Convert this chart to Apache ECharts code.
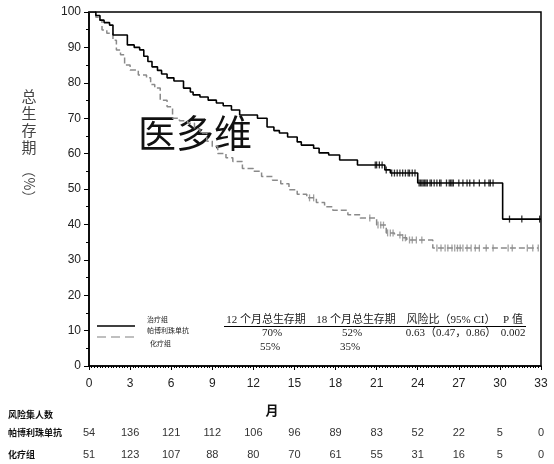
<!DOCTYPE html>
<html>
<head>
<meta charset="utf-8">
<script src="https://cdn.jsdelivr.net/npm/echarts@6/dist/echarts.min.js"></script>
<style>
html, body { margin: 0; padding: 0; background: #fff; }
#main { width: 554px; height: 464px; }
</style>
</head>
<body>
<div id="main"></div>
<script>
// 帕博利珠单抗组 KM 曲线（月, 生存率%）
var pembroTime = [0, 0.5, 0.8, 1.1, 1.5, 1.75, 2.8, 3.3, 3.7, 4.0, 4.3, 4.6, 5.0, 5.3, 5.7, 6.2, 6.9, 7.4, 7.6, 8.1, 8.7, 9.3, 9.8, 10.4, 11.0, 12.3, 13.0, 13.5, 13.9, 14.5, 15.2, 15.5, 16.4, 16.8, 17.5, 18.3, 19.6, 21.6, 22.0, 24.0, 30.2, 33.0];
var pembroSurv = [100, 99, 97.7, 97, 96.3, 93.5, 90.7, 90, 89.3, 87.5, 86, 84.5, 83.5, 82.5, 81.4, 80.5, 78.5, 77.4, 76.6, 76, 75.1, 74.3, 73.5, 72.3, 70.9, 70, 67.5, 66.5, 65.8, 64.7, 63.3, 62.4, 61.5, 60.2, 59.6, 58.2, 56.8, 55.4, 54.5, 51.7, 41.5, 41.5];
// 化疗组
var chemoTime = [0, 0.5, 0.8, 0.95, 1.3, 1.75, 2.0, 2.3, 2.6, 3.0, 3.6, 4.2, 4.5, 4.8, 5.2, 5.7, 6.1, 6.6, 7.2, 7.7, 8.1, 8.6, 9.0, 9.4, 10.0, 10.5, 11.2, 12.0, 12.6, 13.4, 14.0, 14.6, 15.2, 15.9, 16.6, 17.2, 17.8, 18.9, 19.8, 21.0, 21.7, 22.3, 22.9, 23.2, 25.1, 32.8];
var chemoSurv = [100, 98.5, 97.7, 94.9, 94, 92, 89.3, 87.9, 85, 83.6, 82.2, 81.4, 79.5, 78.5, 75.1, 73.2, 70, 69.3, 68.6, 67, 65.8, 63.5, 62, 60, 58.8, 57.8, 55.8, 55, 53.5, 52.5, 51.5, 49.8, 48.5, 47.5, 46.2, 45, 44, 42.7, 41.8, 39.8, 37.6, 37, 36.2, 35.6, 33.3, 33.3];
// 删失时间（月）
var pembroCensor = [20.9, 21.0, 21.2, 21.4, 21.7, 22.1, 22.3, 22.5, 22.7, 22.9, 23.1, 23.3, 23.4, 23.6, 23.8, 24.1, 24.2, 24.3, 24.4, 24.5, 24.6, 24.7, 24.9, 25.0, 25.2, 25.4, 25.6, 25.7, 26.1, 26.3, 26.4, 26.5, 26.6, 27.0, 27.3, 27.6, 27.8, 28.1, 28.5, 28.9, 29.2, 29.3, 29.5, 30.7, 31.6, 32.9];
var chemoCensor = [16.1, 16.4, 20.5, 21.1, 21.3, 21.5, 21.8, 22.0, 22.2, 22.7, 22.9, 23.1, 23.4, 23.6, 23.9, 24.3, 25.4, 25.7, 26.0, 26.2, 26.5, 26.7, 26.9, 27.1, 27.3, 27.6, 27.9, 28.2, 28.5, 29.0, 29.5, 30.6, 30.9, 32.0, 32.4, 32.8];
// 风险集人数
var riskMonths = [0, 3, 6, 9, 12, 15, 18, 21, 24, 27, 30, 33];
var riskPembro = [54, 136, 121, 112, 106, 96, 89, 83, 52, 22, 5, 0];
var riskChemo = [51, 123, 107, 88, 80, 70, 61, 55, 31, 16, 5, 0];
// 图内统计表
var tableHeader = ['12 个月总生存期', '18 个月总生存期', '风险比（95% CI）', 'P 值'];
var pembroRow = ['70%', '52%', '0.63（0.47，0.86）', '0.002'];
var chemoRow = ['55%', '35%', '', ''];

function pairs(ts, ss) {
    return ts.map(function (t, i) { return [t, ss[i]]; });
}
function survAt(ts, ss, t) {
    var v = ss[0];
    for (var i = 0; i < ts.length; i++) {
        if (ts[i] <= t) v = ss[i];
    }
    return v;
}

var cjk = '"Noto Sans CJK SC"';
var serif = '"Liberation Serif", "Noto Sans CJK SC"';

var myChart = echarts.init(document.getElementById('main'));

var option = {
    backgroundColor: '#fff',
    animation: false,
    grid: {
        left: 89, right: 13, top: 12, bottom: 98,
        show: true, borderColor: '#000', borderWidth: 1.5
    },
    xAxis: {
        type: 'value', min: 0, max: 33, interval: 3,
        axisLine: { lineStyle: { color: '#000', width: 1.5 } },
        axisTick: { length: 4, lineStyle: { color: '#000' } },
        minorTick: { show: true, splitNumber: 15, length: 2, lineStyle: { color: '#000' } },
        axisLabel: { color: '#222', fontSize: 12, margin: 12, fontFamily: '"Liberation Sans"' },
        splitLine: { show: false }
    },
    yAxis: {
        type: 'value', min: 0, max: 100, interval: 10,
        axisLine: { show: true, lineStyle: { color: '#000', width: 1.5 } },
        axisTick: { show: true, length: 5, lineStyle: { color: '#000' } },
        minorTick: { show: true, splitNumber: 2, length: 3, lineStyle: { color: '#000' } },
        axisLabel: { color: '#222', fontSize: 12, margin: 8, fontFamily: '"Liberation Sans"' },
        splitLine: { show: false }
    },
    series: [{
        name: '化疗组',
        type: 'line', step: 'end', symbol: 'none',
        lineStyle: { color: '#8a8a8a', width: 1.5, type: [6, 3] },
        data: pairs(chemoTime, chemoSurv)
    }, {
        name: '帕博利珠单抗',
        type: 'line', step: 'end', symbol: 'none',
        lineStyle: { color: '#000', width: 1.6 },
        data: pairs(pembroTime, pembroSurv)
    }, {
        type: 'scatter', symbol: 'rect', symbolSize: [1.3, 7],
        itemStyle: { color: '#8a8a8a' },
        data: chemoCensor.map(function (t) { return [t, survAt(chemoTime, chemoSurv, t)]; })
    }, {
        type: 'scatter', symbol: 'rect', symbolSize: [1.3, 7],
        itemStyle: { color: '#000' },
        data: pembroCensor.map(function (t) { return [t, survAt(pembroTime, pembroSurv, t)]; })
    }]
};
myChart.setOption(option);

var g = [];
// y 轴名称
g.push({ type: 'text', x: 29, y: 88, style: { text: '总\n生\n存\n期', font: '15px ' + cjk, fill: '#444', align: 'center', lineHeight: 17 } });
g.push({ type: 'text', x: 29, y: 184, rotation: -Math.PI / 2, style: { text: '（%）', font: '14px ' + cjk, fill: '#444', align: 'center', verticalAlign: 'middle' } });
// 水印
g.push({ type: 'text', x: 138, y: 114, style: { text: '医多维', font: '38px ' + cjk, fill: '#111' } });
// 图例
g.push({ type: 'line', shape: { x1: 97, y1: 326, x2: 135, y2: 326 }, style: { stroke: '#000', lineWidth: 1.6 } });
g.push({ type: 'line', shape: { x1: 97, y1: 337, x2: 135, y2: 337 }, style: { stroke: '#aaa', lineWidth: 1.5, lineDash: [9, 5] } });
g.push({ type: 'text', x: 147, y: 316, style: { text: '治疗组', font: '7px ' + cjk, fill: '#222' } });
g.push({ type: 'text', x: 147, y: 327, style: { text: '帕博利珠单抗', font: '7px ' + cjk, fill: '#222' } });
g.push({ type: 'text', x: 150, y: 340, style: { text: '化疗组', font: '7px ' + cjk, fill: '#222' } });
// 表格
var colX = [266, 356, 451, 513];
tableHeader.forEach(function (h, i) {
    g.push({ type: 'text', x: colX[i], y: 320, style: { text: h, font: '11px ' + serif, fill: '#222', align: 'center', verticalAlign: 'middle' } });
});
g.push({ type: 'line', shape: { x1: 224, y1: 326.5, x2: 526, y2: 326.5 }, style: { stroke: '#000', lineWidth: 1.2 } });
pembroRow.forEach(function (v, i) {
    g.push({ type: 'text', x: colX[i] + (i === 0 ? 6 : (i === 1 ? -4 : 0)), y: 333, style: { text: v, font: '11px ' + serif, fill: '#222', align: 'center', verticalAlign: 'middle' } });
});
chemoRow.forEach(function (v, i) {
    g.push({ type: 'text', x: colX[i] + (i === 0 ? 4 : (i === 1 ? -6 : 0)), y: 347, style: { text: v, font: '11px ' + serif, fill: '#222', align: 'center', verticalAlign: 'middle' } });
});
// x 轴名称
g.push({ type: 'text', x: 272, y: 410, style: { text: '月', font: 'bold 13px ' + cjk, fill: '#111', align: 'center', verticalAlign: 'middle' } });
// 风险集人数表
g.push({ type: 'text', x: 8, y: 415, style: { text: '风险集人数', font: 'bold 9px ' + cjk, fill: '#111', verticalAlign: 'middle' } });
g.push({ type: 'text', x: 8, y: 433, style: { text: '帕博利珠单抗', font: 'bold 9px ' + cjk, fill: '#111', verticalAlign: 'middle' } });
g.push({ type: 'text', x: 8, y: 455, style: { text: '化疗组', font: 'bold 9px ' + cjk, fill: '#111', verticalAlign: 'middle' } });
riskMonths.forEach(function (m, i) {
    var px = myChart.convertToPixel({ xAxisIndex: 0 }, m);
    g.push({ type: 'text', x: px, y: 433, style: { text: String(riskPembro[i]), font: '11px "Liberation Sans"', fill: '#333', align: 'center', verticalAlign: 'middle' } });
    g.push({ type: 'text', x: px, y: 455, style: { text: String(riskChemo[i]), font: '11px "Liberation Sans"', fill: '#333', align: 'center', verticalAlign: 'middle' } });
});
myChart.setOption({ graphic: g });
</script>
</body>
</html>
